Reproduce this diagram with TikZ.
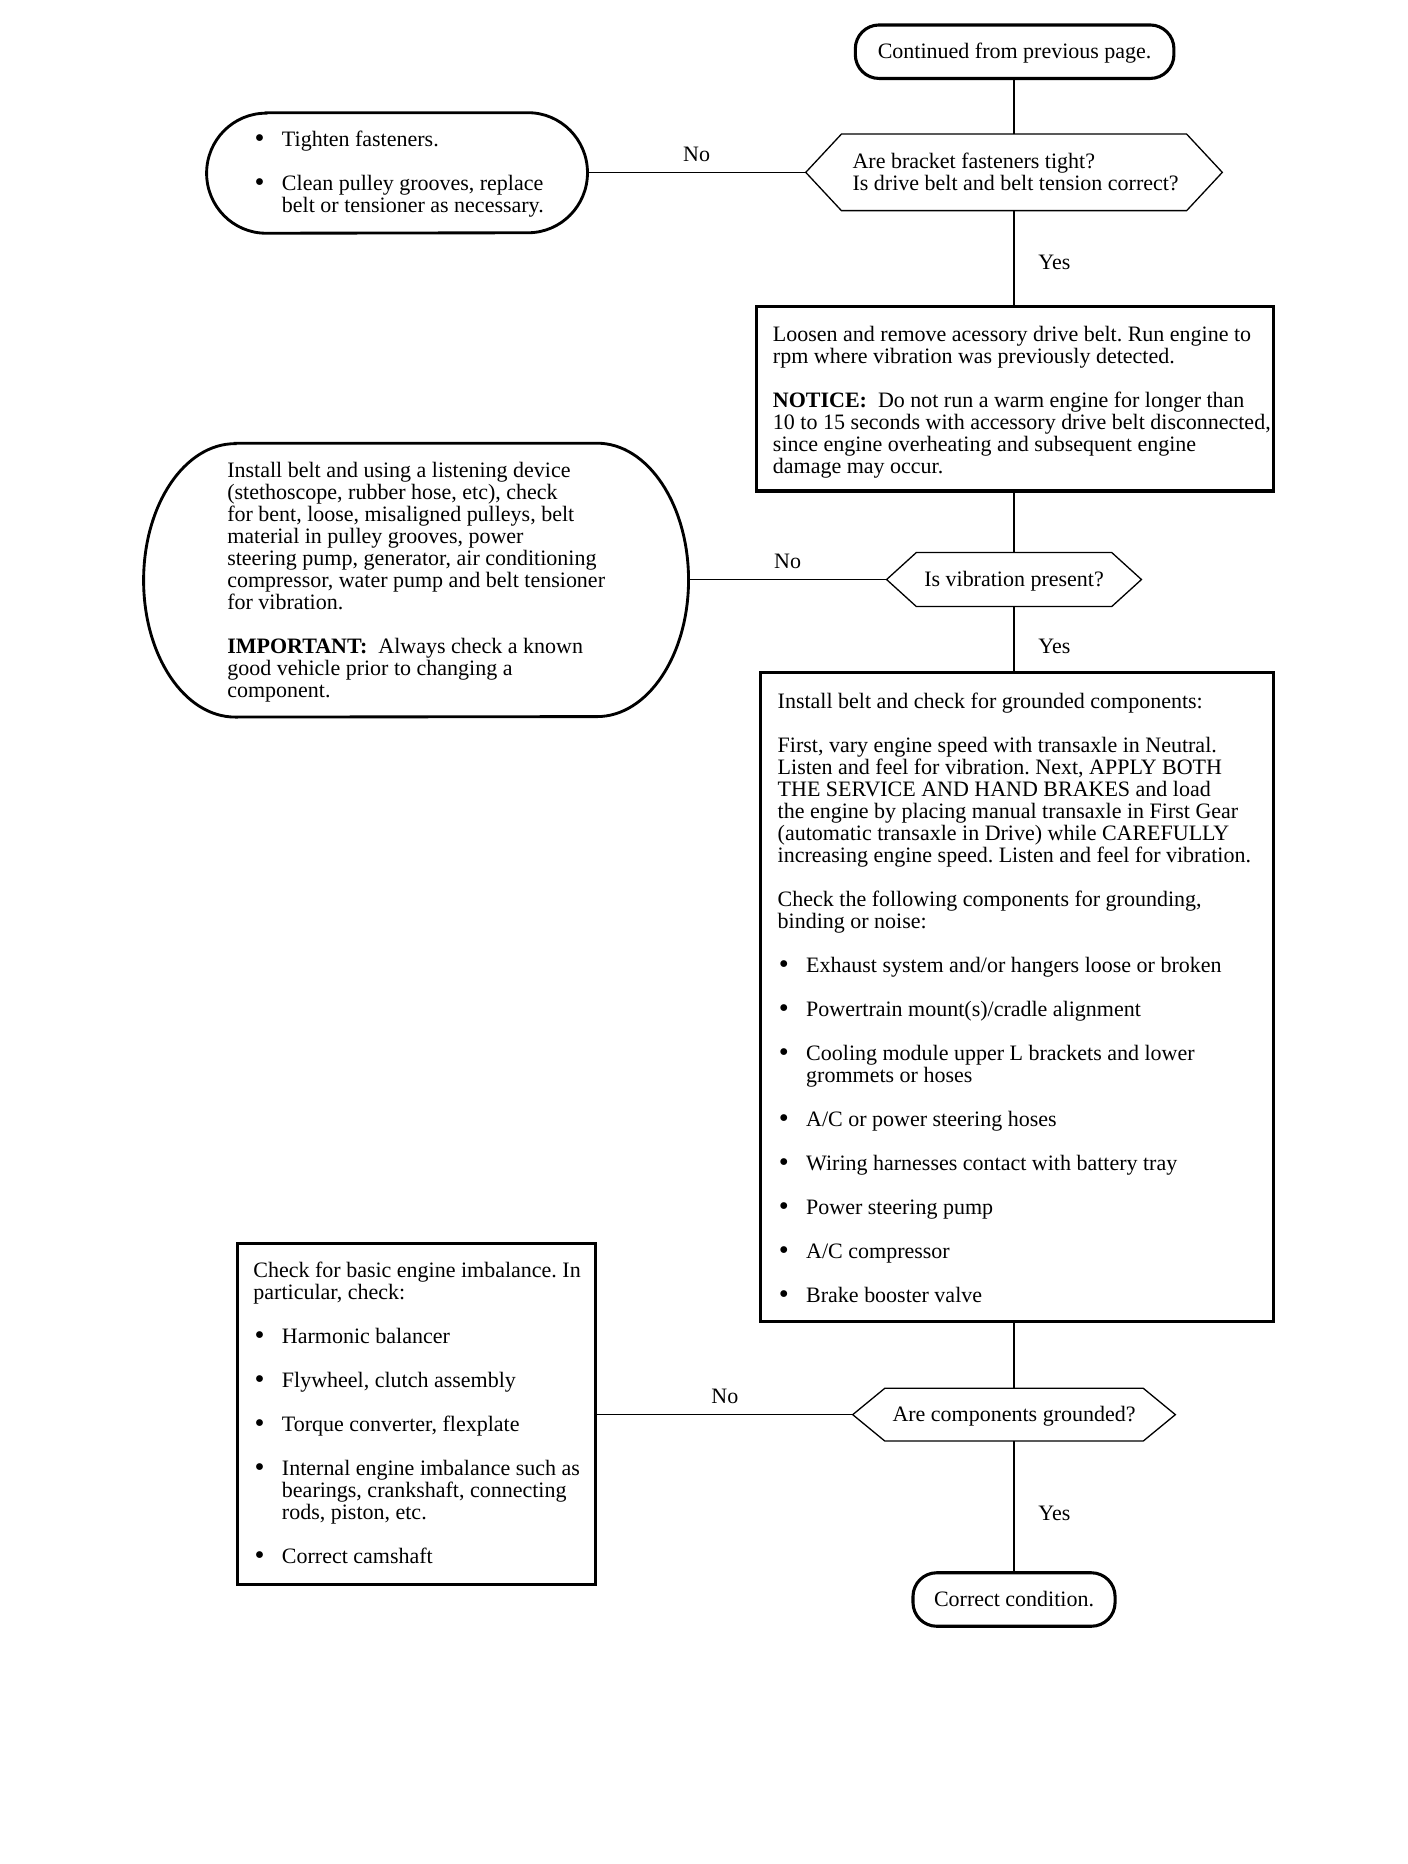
\documentclass[tikz,border=0pt]{standalone}
\usepackage{fontspec}
\setmainfont{Liberation Serif}
\usetikzlibrary{calc}
\newcommand{\bul}{\hspace*{1pt}\makebox[23pt][l]{\raisebox{-0.8pt}{\fontsize{24}{18.5}\selectfont\textbullet}}}
\newcommand{\hind}{\hspace*{24pt}}
\begin{document}
\frenchspacing
\begin{tikzpicture}[x=1pt,y=1pt,
  font=\fontsize{18.5}{18.5}\selectfont\frenchspacing,
  every node/.style={inner sep=0pt},
  ctext/.style={text height=14pt, text depth=2pt},
  boxst/.style={draw, line width=2.6pt},
  termst/.style={draw, line width=2.6pt, rounded corners=20pt, ctext},
  conn/.style={line width=1.1pt},
  outl/.style={line width=2.4pt},
  txt/.style={anchor=base west},
  lab/.style={inner sep=0pt}]
\useasboundingbox (0,0) rectangle (1184.4,-1568);
\fill[white] (0,0) rectangle (1184.4,-1568);

% terminal top
\node[termst, minimum width=268pt, minimum height=45pt] (c1) at (853.5,-43.5) {Continued from previous page.};

% decision 1
\node[minimum width=290pt, minimum height=64pt] (d1) at (853,-145) {};
\draw[conn] (d1.north west) -- (d1.north east) -- ([xshift=30pt]d1.east) -- (d1.south east) -- (d1.south west) -- ([xshift=-30pt]d1.west) -- cycle;
\coordinate (d1l) at ([xshift=-30pt]d1.west);
\node[txt] (t1) at (717,-141.5) {\parbox[t]{320pt}{\raggedright Are bracket fasteners tight?\\Is drive belt and belt tension correct?}};

% ellipse 1
\node[minimum width=320pt, minimum height=101pt] (e1) at (334,-145.5) {};
\draw[outl] ([xshift=50pt]e1.north west) -- ([xshift=-50pt]e1.north east) arc[start angle=90,end angle=-90,x radius=50pt,y radius=50.5pt] -- ([xshift=50pt]e1.south west) arc[start angle=270,end angle=90,x radius=50pt,y radius=50.5pt] -- cycle;
\node[txt] (te1) at (213,-123.5) {\parbox[t]{320pt}{\raggedright \bul Tighten fasteners.\\[18.5pt]\bul Clean pulley grooves, replace\\\hind belt or tensioner as necessary.}};

% box 2
\node[boxst, minimum width=435pt, minimum height=155pt] (b2) at (853.5,-335.5) {};
\node[txt] (tb2) at (650,-287) {\parbox[t]{440pt}{\raggedright Loosen and remove acessory drive belt. Run engine to\\rpm where vibration was previously detected.\\[18.5pt]\textbf{NOTICE:}\ \ Do not run a warm engine for longer than\\10 to 15 seconds with accessory drive belt disconnected,\\since engine overheating and subsequent engine\\damage may occur.}};

% decision 2
\node[ctext, minimum width=164pt, minimum height=45pt] (d2) at (853,-487.5) {Is vibration present?};
\draw[conn] (d2.north west) -- (d2.north east) -- ([xshift=25pt]d2.east) -- (d2.south east) -- (d2.south west) -- ([xshift=-25pt]d2.west) -- cycle;
\coordinate (d2l) at ([xshift=-25pt]d2.west);

% ellipse 2
\node[minimum width=458pt, minimum height=230pt] (e2) at (350,-488) {};
\draw[outl] ([xshift=77pt]e2.north west) -- ([xshift=-77pt]e2.north east) arc[start angle=90,end angle=-90,x radius=77pt,y radius=115pt] -- ([xshift=77pt]e2.south west) arc[start angle=270,end angle=90,x radius=77pt,y radius=115pt] -- cycle;
\node[txt] (te2) at (191,-401.5) {\parbox[t]{400pt}{\raggedright Install belt and using a listening device\\(stethoscope, rubber hose, etc), check\\for bent, loose, misaligned pulleys, belt\\material in pulley grooves, power\\steering pump, generator, air conditioning\\compressor, water pump and belt tensioner\\for vibration.\\[18.5pt]\textbf{IMPORTANT:}\ \ Always check a known\\good vehicle prior to changing a\\component.}};

% box 3
\node[boxst, minimum width=431pt, minimum height=546pt] (b3) at (855.5,-839) {};
\node[txt] (tb3) at (654,-596) {\parbox[t]{440pt}{\raggedright Install belt and check for grounded components:\\[18.5pt]First, vary engine speed with transaxle in Neutral.\\Listen and feel for vibration. Next, APPLY BOTH\\THE SERVICE AND HAND BRAKES and load\\the engine by placing manual transaxle in First Gear\\(automatic transaxle in Drive) while CAREFULLY\\increasing engine speed. Listen and feel for vibration.\\[18.5pt]Check the following components for grounding,\\binding or noise:\\[18.5pt]\bul Exhaust system and/or hangers loose or broken\\[18.5pt]\bul Powertrain mount(s)/cradle alignment\\[18.5pt]\bul Cooling module upper L brackets and lower\\\hind grommets or hoses\\[18.5pt]\bul A/C or power steering hoses\\[18.5pt]\bul Wiring harnesses contact with battery tray\\[18.5pt]\bul Power steering pump\\[18.5pt]\bul A/C compressor\\[18.5pt]\bul Brake booster valve}};

% decision 3
\node[ctext, minimum width=217pt, minimum height=44pt] (d3) at (853,-1190) {Are components grounded?};
\draw[conn] (d3.north west) -- (d3.north east) -- ([xshift=27pt]d3.east) -- (d3.south east) -- (d3.south west) -- ([xshift=-27pt]d3.west) -- cycle;
\coordinate (d3l) at ([xshift=-27pt]d3.west);

% box 4
\node[boxst, minimum width=301pt, minimum height=287pt] (b4) at (350.5,-1189.5) {};
\node[txt] (tb4) at (213,-1075) {\parbox[t]{300pt}{\raggedright Check for basic engine imbalance. In\\particular, check:\\[18.5pt]\bul Harmonic balancer\\[18.5pt]\bul Flywheel, clutch assembly\\[18.5pt]\bul Torque converter, flexplate\\[18.5pt]\bul Internal engine imbalance such as\\\hind bearings, crankshaft, connecting\\\hind rods, piston, etc.\\[18.5pt]\bul Correct camshaft}};

% terminal bottom
\node[termst, minimum width=170pt, minimum height=45pt] (c2) at (853,-1345.5) {Correct condition.};

% connectors
\draw[conn] (d1.north |- c1.south) -- (d1.north);
\draw[conn] (d1l) -- node[lab, midway, yshift=15pt] {No} (d1l -| e1.east);
\draw[conn] (d1.south) -- node[lab, midway, xshift=34pt, yshift=-4pt] {Yes} (d1.south |- b2.north);
\draw[conn] (d2.north |- b2.south) -- (d2.north);
\draw[conn] (d2l) -- node[lab, midway, yshift=15.5pt] {No} (d2l -| e2.east);
\draw[conn] (d2.south) -- node[lab, midway, xshift=34pt, yshift=-6pt] {Yes} (d2.south |- b3.north);
\draw[conn] (d3.north |- b3.south) -- (d3.north);
\draw[conn] (d3l) -- node[lab, midway, yshift=15.5pt] {No} (d3l -| b4.east);
\draw[conn] (d3.south) -- node[lab, midway, xshift=34pt, yshift=-6pt] {Yes} (d3.south |- c2.north);
\end{tikzpicture}
\end{document}
